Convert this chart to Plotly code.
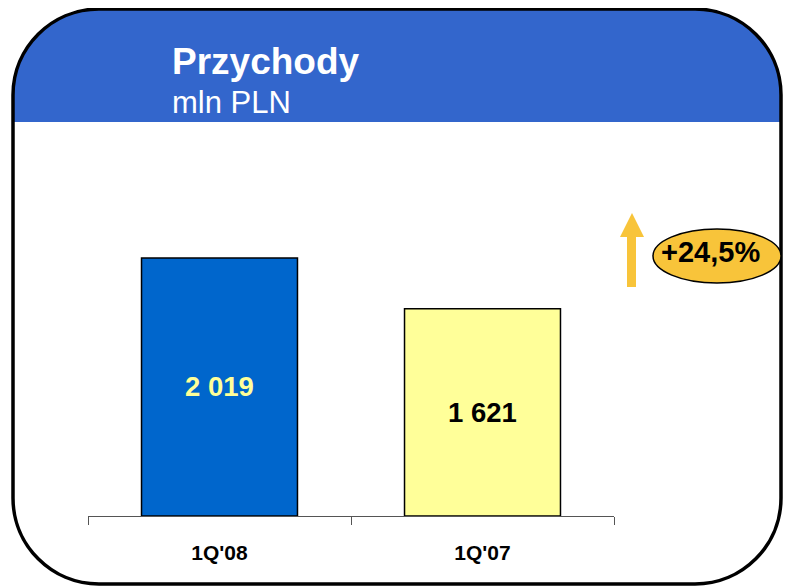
import plotly.graph_objects as go

# ---- data ----
categories = ["1Q'08", "1Q'07"]
values = [2019, 1621]
value_labels = ["2 019", "1 621"]
bar_colors = ["#0066CC", "#FFFF99"]
label_colors = ["#FFFF99", "#000000"]
title_text = "Przychody"
subtitle_text = "mln PLN"
change_text = "+24,5%"

# page body has an 8px margin; work in screen pixels and shift
O = 8
W, H = 791 - O, 586 - O
PL, PR, PT, PB = 88, 614, 130, 516   # plot area in screen px
L, R, T, B = PL - O, W - (PR - O), PT - O, H - (PB - O)
PW = PR - PL
PH = PB - PT
FONT = "Liberation Sans, Arial, sans-serif"


def px(x):
    return (x - PL) / PW


def py(y):
    return (PB - y) / PH


K = 0.5523


def rounded_path(x0, y0, x1, y1, r, round_bottom=True):
    k = r * K
    s = f"M {px(x0 + r)},{py(y0)} L {px(x1 - r)},{py(y0)} "
    s += (f"C {px(x1 - r + k)},{py(y0)} {px(x1)},{py(y0 + r - k)} "
          f"{px(x1)},{py(y0 + r)} ")
    if round_bottom:
        s += f"L {px(x1)},{py(y1 - r)} "
        s += (f"C {px(x1)},{py(y1 - r + k)} {px(x1 - r + k)},{py(y1)} "
              f"{px(x1 - r)},{py(y1)} ")
        s += f"L {px(x0 + r)},{py(y1)} "
        s += (f"C {px(x0 + r - k)},{py(y1)} {px(x0)},{py(y1 - r + k)} "
              f"{px(x0)},{py(y1 - r)} ")
    else:
        s += f"L {px(x1)},{py(y1)} L {px(x0)},{py(y1)} "
    s += f"L {px(x0)},{py(y0 + r)} "
    s += (f"C {px(x0)},{py(y0 + r - k)} {px(x0 + r - k)},{py(y0)} "
          f"{px(x0 + r)},{py(y0)} Z")
    return s


fig = go.Figure()
fig.add_trace(go.Bar(
    x=categories, y=values,
    marker=dict(color=bar_colors, line=dict(color="#000000", width=1.5)),
    text=value_labels, textposition="inside", insidetextanchor="middle",
    textangle=0,
    textfont=dict(family=FONT, size=27.5, color=label_colors, weight="bold"),
    width=0.593, hoverinfo="skip",
))

FR = 781  # right edge of frame (kept inside the visible area)
shapes = []
# header band
shapes.append(dict(type="path", xref="paper", yref="paper",
                   path=rounded_path(13, 9, FR, 122, 86, round_bottom=False),
                   fillcolor="#3366CC", line=dict(width=0), layer="below"))
# frame
shapes.append(dict(type="path", xref="paper", yref="paper",
                   path=rounded_path(13, 9, FR, 584, 86),
                   fillcolor="rgba(0,0,0,0)", line=dict(color="#000000", width=3.5),
                   layer="above"))
# arrow
arrow = [(632, 213), (644, 237), (636, 237), (636, 287), (627, 287), (627, 237), (620, 237)]
apath = "M " + " L ".join(f"{px(a)},{py(b)}" for a, b in arrow) + " Z"
shapes.append(dict(type="path", xref="paper", yref="paper", path=apath,
                   fillcolor="#F8C43A", line=dict(width=0)))
# ellipse
shapes.append(dict(type="circle", xref="paper", yref="paper",
                   x0=px(653), x1=px(781), y0=py(283), y1=py(229),
                   fillcolor="#F8C43A", line=dict(color="#000000", width=1.5)))

annotations = [
    dict(xref="paper", yref="paper", x=px(170), y=py(61), text=title_text,
         showarrow=False, xanchor="left", yanchor="middle",
         font=dict(family=FONT, size=37, color="#FFFFFF", weight="bold")),
    dict(xref="paper", yref="paper", x=px(170), y=py(103), text=subtitle_text,
         showarrow=False, xanchor="left", yanchor="middle",
         font=dict(family=FONT, size=31, color="#FFFFFF")),
    dict(xref="paper", yref="paper", x=px(710), y=py(252), text=change_text,
         showarrow=False, xanchor="center", yanchor="middle",
         font=dict(family=FONT, size=29, color="#000000", weight="bold")),
]

fig.update_layout(
    width=W, height=H,
    margin=dict(l=L, r=R, t=T, b=B, pad=0),
    paper_bgcolor="#FFFFFF", plot_bgcolor="rgba(0,0,0,0)",
    showlegend=False,
    shapes=shapes, annotations=annotations,
    xaxis=dict(type="category", showline=True, linecolor="#555555", linewidth=1,
               ticks="outside", tickson="boundaries", ticklen=8, tickcolor="#555555",
               tickwidth=1, showgrid=False, zeroline=False, fixedrange=True,
               ticklabelstandoff=18,
               tickfont=dict(family=FONT, size=21, color="#000000", weight="bold")),
    yaxis=dict(range=[0, 3020], visible=False, fixedrange=True),
)

fig.write_html("out.html")
